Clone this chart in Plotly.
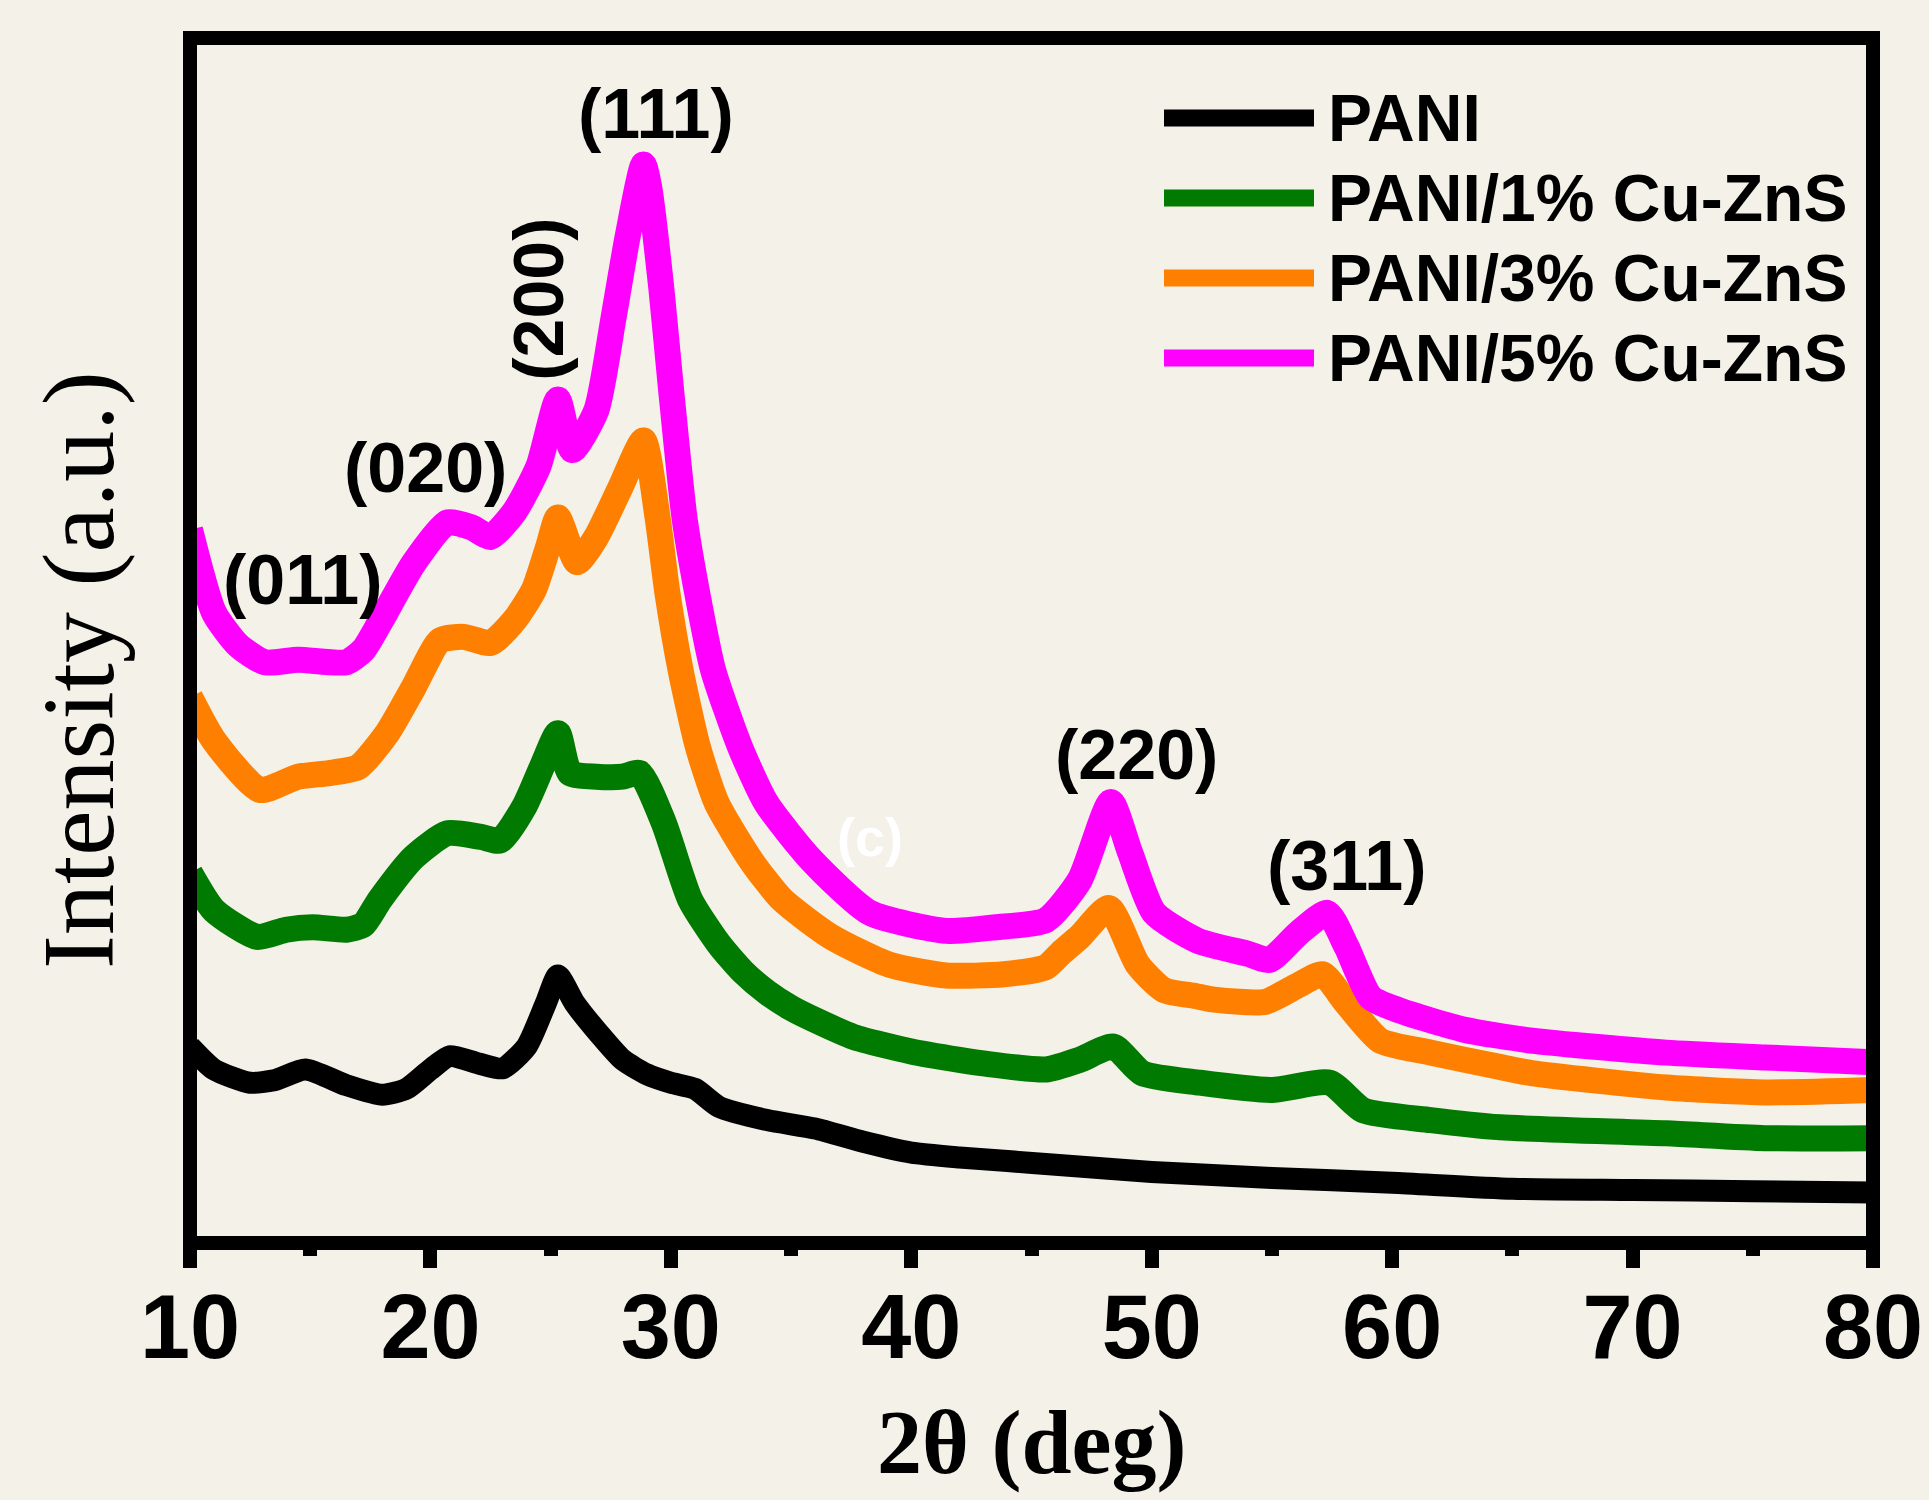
import plotly.graph_objects as go

# ---------------- data ----------------
series_names = ["PANI", "PANI/1% Cu-ZnS", "PANI/3% Cu-ZnS", "PANI/5% Cu-ZnS"]
series_colors = ["#000000", "#007A00", "#FF8000", "#FF00FF"]

x_pani = [10, 11, 12.5, 13.5, 14.8, 16.5, 18, 19, 20, 20.8, 22, 23, 24, 24.8, 25.3, 26, 27, 28, 29, 30,
          31, 32, 34, 36, 38, 40, 42, 44, 46, 50, 55, 60, 65, 70, 75, 80]
y_pani = [16.3, 14.4, 13.3, 13.5, 14.4, 13.1, 12.3, 12.8, 14.4, 15.5, 14.9, 14.5, 16.3, 19.9, 22.2, 19.9,
          17.4, 15.2, 14.0, 13.3, 12.8, 11.3, 10.2, 9.5, 8.4, 7.5, 7.1, 6.8, 6.5, 5.9, 5.4, 5.0, 4.5, 4.4,
          4.3, 4.2]

x_cu1 = [10, 11, 12.8, 14, 15.1, 16.5, 17.2, 17.9, 19.3, 20.7, 22.1, 22.9, 23.9, 24.7, 25.3, 25.8, 26.9,
         28.0, 28.7, 29.7, 30.8, 32, 33, 34, 35, 36, 37.6, 40, 42, 43, 45.6, 47, 48.4, 49.6, 52, 55, 57.4,
         58.8, 61.6, 64.5, 71.4, 75.5, 80]
y_cu1 = [30.7, 27.6, 25.4, 26.0, 26.2, 26.0, 26.4, 28.5, 32.0, 34.0, 33.7, 33.4, 36.2, 39.8, 42.3, 39.0,
         38.7, 38.7, 39.0, 34.9, 28.5, 24.8, 22.5, 20.8, 19.5, 18.5, 17.1, 15.9, 15.2, 14.9, 14.4, 15.2,
         16.3, 14.1, 13.3, 12.7, 13.3, 11.0, 10.2, 9.6, 9.1, 8.7, 8.7]

x_cu3 = [10, 11, 12.9, 14.5, 15.8, 17, 18.2, 19.3, 20.4, 21.4, 22.5, 23.5, 24.3, 24.9, 25.3, 26.1, 26.9,
         27.9, 28.86, 29.44, 29.86, 30.4, 31.12, 31.91, 33.35, 34.62, 36.67, 39.08, 41.46, 43.85, 45.6,
         46.24, 47.0, 48.22, 49.42, 50.5, 51.81, 52.6, 54.7, 56.1, 57.1, 58.1, 59.5, 61.6, 64.5, 65.8,
         71.4, 75.5, 80]
y_cu3 = [45.3, 41.7, 37.6, 38.7, 39.0, 39.5, 42.3, 46.1, 50.0, 50.3, 49.8, 51.7, 54.2, 57.8, 60.2, 56.5,
         58.6, 62.7, 66.6, 60.3, 53.9, 47.6, 41.2, 36.5, 31.7, 28.5, 25.4, 23.1, 22.2, 22.3, 22.9, 24.1,
         25.4, 27.8, 23.1, 21.0, 20.5, 20.2, 20.0, 21.4, 22.3, 19.9, 16.8, 15.8, 14.6, 14.1, 12.9, 12.5,
         12.7]

x_cu5 = [10, 11, 12, 13.1, 14.5, 16.5, 17.2, 17.9, 19.3, 20.7, 21.7, 22.5, 23.5, 24.5, 25.3, 25.9, 26.9,
         27.6, 28.2, 28.86, 29.1, 29.6, 30.0, 30.56, 31.1, 31.75, 32.87, 33.97, 35.88, 38.28, 41.46, 43.5,
         45.6, 47.0, 48.3, 49.1, 50.1, 51.9, 54.0, 54.9, 56.1, 57.3, 58.1, 59.1, 60.3, 63.0, 65.8, 71.4,
         75.5, 80]
y_cu5 = [59.2, 52.3, 49.6, 48.2, 48.4, 48.2, 49.2, 51.5, 56.4, 59.8, 59.4, 58.6, 60.7, 64.5, 70.0, 65.8,
         69.1, 76.6, 83.5, 89.5, 87.6, 79.3, 71.0, 60.3, 53.9, 47.6, 41.2, 36.5, 31.7, 27.4, 25.9, 26.2,
         26.8, 30.1, 36.6, 32.4, 27.4, 25.1, 24.0, 23.5, 25.7, 27.4, 24.6, 20.4, 19.3, 17.7, 16.8, 15.8,
         15.4, 15.0]

series_x = [x_pani, x_cu1, x_cu3, x_cu5]
series_y = [y_pani, y_cu1, y_cu3, y_cu5]
series_widths = [22, 26, 26, 26]

# peak labels: text, 2theta, intensity, angle
peak_labels = ["(011)", "(020)", "(200)", "(111)", "(220)", "(311)"]
peak_x = [14.68, 19.79, 24.53, 29.40, 49.38, 58.13]
peak_y = [55.0, 64.3, 78.3, 93.7, 40.5, 31.3]
peak_angle = [0, 0, -90, 0, 0, 0]

x_ticks = [10, 20, 30, 40, 50, 60, 70, 80]
x_title = "2θ (deg)"
y_title = "Intensity (a.u.)"
panel_label = "(c)"

# ---------------- layout geometry ----------------
W, H = 1929, 1500
L, R, T, B = 190, 1873, 38, 1243
BG = "#F4F1E9"


def px_x(px):
    return (px - L) / (R - L)


def px_y(py):
    return (B - py) / (B - T)


fig = go.Figure()
for name, xs, ys, col, lw in zip(series_names, series_x, series_y, series_colors, series_widths):
    fig.add_trace(go.Scatter(x=xs, y=ys, mode="lines", name=name,
                             line=dict(color=col, width=lw, shape="spline", smoothing=0.6),
                             showlegend=False))

annotations = []
for txt, xv, yv, ang in zip(peak_labels, peak_x, peak_y, peak_angle):
    annotations.append(dict(x=xv, y=yv, xref="x", yref="y", text=txt, showarrow=False,
                            textangle=ang, xanchor="center", yanchor="middle",
                            font=dict(family="Liberation Sans", size=70, color="black", weight="bold")))
annotations.append(dict(x=38.27, y=33.7, xref="x", yref="y", text=panel_label, showarrow=False,
                        xanchor="center", yanchor="middle",
                        font=dict(family="Liberation Sans", size=54, color="white", weight="bold")))

# axis titles
annotations.append(dict(x=0.5, y=px_y(1443), xref="paper", yref="paper", text=x_title, showarrow=False,
                        xanchor="center", yanchor="middle",
                        font=dict(family="Liberation Serif", size=90, color="black", weight="bold")))
annotations.append(dict(x=px_x(78), y=px_y(670), xref="paper", yref="paper", text=y_title,
                        showarrow=False, textangle=-90, xanchor="center", yanchor="middle",
                        font=dict(family="Liberation Serif", size=102, color="black")))

# legend (drawn manually to match the long sample lines)
shapes = []
leg_y = [118, 198, 278, 358]
for name, col, ly in zip(series_names, series_colors, leg_y):
    shapes.append(dict(type="line", xref="paper", yref="paper", x0=px_x(1164), x1=px_x(1314),
                       y0=px_y(ly), y1=px_y(ly), line=dict(color=col, width=17), layer="above"))
    annotations.append(dict(x=px_x(1326), y=px_y(ly), xref="paper", yref="paper", text=name,
                            showarrow=False, xanchor="left", yanchor="middle",
                            font=dict(family="Liberation Sans", size=66, color="black", weight="bold")))

# frame
shapes.append(dict(type="rect", xref="paper", yref="paper", x0=0, x1=1, y0=0, y1=1,
                   line=dict(color="black", width=14), layer="above"))

fig.update_layout(
    width=W, height=H,
    margin=dict(l=L, r=W - R, t=T, b=H - B, pad=0),
    paper_bgcolor=BG, plot_bgcolor=BG,
    annotations=annotations, shapes=shapes,
    showlegend=False,
)
fig.update_xaxes(range=[10, 80], tickvals=x_ticks, ticktext=[str(v) for v in x_ticks],
                 ticks="outside", ticklen=24, tickwidth=14, tickcolor="black",
                 minor=dict(dtick=5, tick0=15, ticks="outside", ticklen=12, tickwidth=14, tickcolor="black"),
                 showgrid=False, zeroline=False, showline=False, automargin=False,
                 tickfont=dict(family="Liberation Sans", size=90, color="black", weight="bold"),
                 ticklabelstandoff=-18)
fig.update_yaxes(range=[0, 100], showticklabels=False, ticks="", showgrid=False, zeroline=False,
                 showline=False, automargin=False)

page_fix = ("document.documentElement.style.margin='0';document.body.style.margin='0';"
            "document.body.style.padding='0';document.body.style.overflow='hidden';"
            "document.documentElement.style.background='" + BG + "';"
            "document.body.style.background='" + BG + "';")
fig.write_html("out.html", post_script=page_fix, config={"displayModeBar": False})
